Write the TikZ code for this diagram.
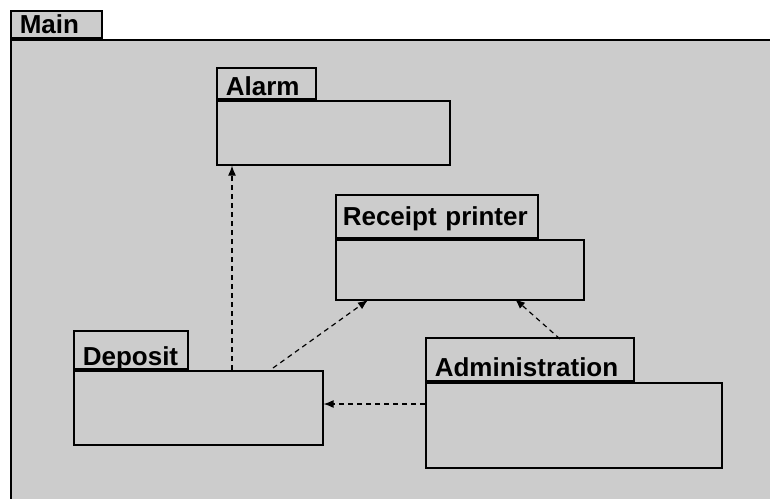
\documentclass[tikz,border=0pt]{standalone}
\usepackage{fontspec}
\setmainfont{Liberation Sans}
\usetikzlibrary{arrows.meta, positioning}

\begin{document}
\begin{tikzpicture}[
    x=1pt, y=-1pt,
    pkgbody/.style={rectangle, draw=black, line width=1.6pt, fill=black!20, anchor=north west, inner sep=0pt},
    pkgtab/.style={rectangle, draw=black, line width=1.6pt, fill=black!20, anchor=south west, inner xsep=9pt, inner ysep=0pt, align=left, font=\fontsize{26}{30}\selectfont\bfseries},
    dep/.style={line width=1.2pt, dash pattern=on 5pt off 4pt, -{Latex[length=10pt,width=8pt]}}
]

\useasboundingbox (0,0) rectangle (770,498);
\clip (0,0) rectangle (770,498);
\fill[white] (0,0) rectangle (770,498);

% main package
\node[pkgbody, minimum width=800pt, minimum height=500pt] (main) at (10,39) {};
\node[pkgtab, text width=73pt, text height=22pt, text depth=5pt] (maintab) at (main.north west) {Main};

% inner packages
\node[pkgbody, minimum width=233pt, minimum height=64pt] (alarm) at (216,100) {};
\node[pkgtab, text width=81pt, text height=27pt, text depth=4pt] (alarmtab) at (alarm.north west) {Alarm};

\node[pkgbody, minimum width=248pt, minimum height=60pt] (printer) at (335,239) {};
\node[pkgtab, inner xsep=7pt, text width=188pt, text height=30pt, text depth=13pt] (printertab) at (printer.north west) {Receipt printer};

\node[pkgbody, minimum width=249pt, minimum height=74pt] (deposit) at (73,370) {};
\node[pkgtab, text width=96pt, text height=34pt, text depth=4pt] (deposittab) at (deposit.north west) {Deposit};

\node[pkgbody, minimum width=296pt, minimum height=85pt] (admin) at (425,382) {};
\node[pkgtab, text width=190pt, text height=38pt, text depth=5pt] (admintab) at (admin.north west) {Administration};

% dependencies
\coordinate (depalarm) at (232,370);
\coordinate (depprinter) at (273,368);
\coordinate (printerdep) at (368,300);
\coordinate (adminprinter) at (560,339);
\coordinate (printeradmin) at (515,299);
\coordinate (admindep) at (425,404);

\draw[dep] (depalarm) -- (depalarm |- alarm.south);
\draw[dep] (depprinter) -- (printerdep);
\draw[dep] (adminprinter) -- (printeradmin);
\draw[dep] (admindep) -- (admindep -| deposit.east);

\end{tikzpicture}
\end{document}
